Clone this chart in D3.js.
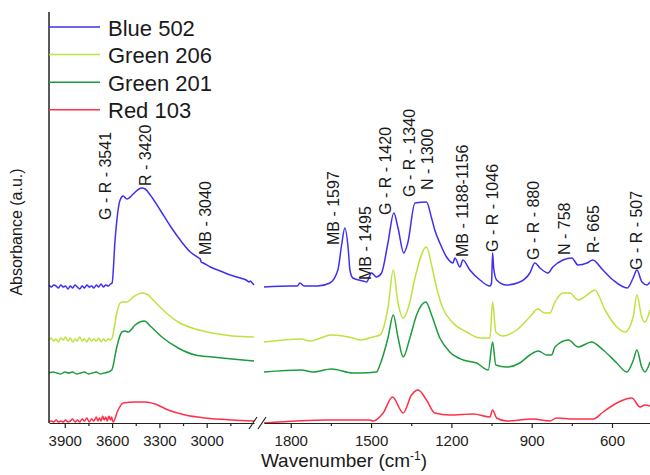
<!DOCTYPE html>
<html>
<head>
<meta charset="utf-8">
<script src="https://cdn.jsdelivr.net/npm/d3@7"></script>
<style>
  html, body { margin: 0; padding: 0; background: #fff; }
  svg { display: block; font-family: "Liberation Sans", Arial, sans-serif; }
</style>
</head>
<body>
<svg id="chart" width="650" height="475"></svg>
<script>
// FTIR spectra, [wavenumber (cm-1), absorbance (a.u., stacked)]
// "High" = 4000-2700 cm-1 window, "Low" = 1900-458 cm-1 window.
const seriesNames = ["Blue 502", "Green 206", "Green 201", "Red 103"];
const seriesColors = ["#3f2ff2", "#bde33f", "#1c9c3c", "#ff3047"];

const blueHigh = [
  [4000,1.38],[3985,1.36],[3970,1.38],[3955,1.37],[3940,1.35],[3925,1.38],[3910,1.36],
  [3895,1.37],[3880,1.34],[3865,1.37],[3850,1.35],[3835,1.38],[3820,1.36],[3805,1.34],
  [3790,1.37],[3775,1.35],[3760,1.38],[3745,1.36],[3730,1.37],[3715,1.35],[3700,1.38],
  [3685,1.36],[3670,1.39],[3655,1.36],[3640,1.38],[3625,1.37],[3610,1.39],[3600,1.40],
  [3581,1.83],[3562,2.13],[3549,2.23],[3530,2.27],[3506,2.24],[3466,2.29],[3430,2.34],
  [3411,2.35],[3390,2.34],[3358,2.28],[3295,2.13],[3231,1.97],[3168,1.83],[3104,1.71],
  [3050,1.65],[3041,1.64],[3035,1.61],[3022,1.60],[2977,1.56],[2914,1.52],[2850,1.48],
  [2787,1.45],[2750,1.43],[2730,1.41],[2723,1.42],[2711,1.40],[2700,1.38]
];
const blueLow = [
  [1900,1.36],[1800,1.37],[1775,1.37],[1766,1.40],[1750,1.37],[1699,1.37],[1654,1.40],
  [1624,1.53],[1610,1.78],[1598,1.95],[1585,1.73],[1579,1.53],[1568,1.45],[1530,1.42],
  [1517,1.41],[1498,1.50],[1480,1.46],[1461,1.50],[1437,1.80],[1415,2.10],[1400,1.96],
  [1378,1.70],[1363,1.80],[1336,2.20],[1293,2.21],[1274,2.05],[1262,1.93],[1243,1.80],
  [1218,1.66],[1194,1.60],[1187,1.65],[1168,1.56],[1157,1.63],[1131,1.53],[1093,1.43],
  [1056,1.37],[1050,1.40],[1046,1.70],[1042,1.55],[1031,1.43],[994,1.38],[944,1.41],
  [907,1.50],[888,1.60],[869,1.55],[839,1.50],[821,1.56],[783,1.63],[750,1.65],
  [727,1.58],[693,1.60],[672,1.63],[634,1.53],[596,1.43],[543,1.35],[521,1.45],
  [507,1.53],[488,1.41],[469,1.38],[458,1.41]
];

const green206High = [
  [4000,0.83],[3985,0.85],[3970,0.82],[3955,0.84],[3940,0.81],[3925,0.85],[3910,0.83],
  [3895,0.86],[3880,0.82],[3865,0.85],[3850,0.81],[3835,0.84],[3820,0.82],[3805,0.86],
  [3790,0.82],[3775,0.84],[3760,0.81],[3745,0.85],[3730,0.82],[3715,0.84],[3700,0.82],
  [3685,0.85],[3670,0.81],[3655,0.84],[3640,0.82],[3625,0.84],[3610,0.83],[3600,0.85],
  [3570,1.10],[3549,1.20],[3530,1.21],[3506,1.21],[3466,1.26],[3411,1.30],[3371,1.28],
  [3327,1.21],[3263,1.11],[3181,1.01],[3073,0.94],[2965,0.90],[2838,0.87],[2700,0.86]
];
const green206Low = [
  [1900,0.81],[1760,0.84],[1729,0.82],[1648,0.88],[1568,0.85],[1542,0.83],[1493,0.86],
  [1467,0.88],[1437,1.15],[1417,1.53],[1400,1.21],[1380,1.05],[1355,1.21],[1336,1.45],
  [1293,1.76],[1274,1.58],[1255,1.35],[1232,1.15],[1194,1.00],[1143,0.91],[1093,0.85],
  [1056,0.85],[1046,1.21],[1034,0.91],[1007,0.87],[956,0.93],[907,1.06],[877,1.14],
  [851,1.10],[832,1.10],[813,1.21],[783,1.30],[757,1.30],[727,1.23],[693,1.28],
  [664,1.33],[626,1.13],[582,0.96],[551,0.91],[521,1.06],[507,1.28],[489,1.06],
  [477,1.01],[458,1.13]
];

const green201High = [
  [4000,0.50],[3975,0.51],[3950,0.50],[3925,0.49],[3900,0.51],[3875,0.50],[3850,0.51],
  [3825,0.49],[3800,0.50],[3775,0.51],[3750,0.49],[3725,0.50],[3700,0.51],[3675,0.49],
  [3650,0.50],[3625,0.51],[3602,0.53],[3570,0.76],[3538,0.91],[3517,0.92],[3498,0.91],
  [3454,0.98],[3397,1.02],[3351,0.96],[3284,0.86],[3181,0.75],[3073,0.68],[2967,0.66],
  [2840,0.64],[2700,0.62]
];
const green201Low = [
  [1900,0.51],[1760,0.53],[1718,0.51],[1648,0.54],[1568,0.50],[1542,0.50],[1480,0.51],
  [1467,0.58],[1437,0.85],[1417,1.08],[1399,0.85],[1380,0.66],[1355,0.85],[1330,1.08],
  [1295,1.21],[1274,1.08],[1243,0.85],[1206,0.71],[1156,0.63],[1106,0.60],[1062,0.53],
  [1046,0.81],[1034,0.58],[994,0.56],[944,0.60],[907,0.68],[875,0.72],[844,0.68],
  [826,0.68],[813,0.76],[763,0.83],[726,0.76],[677,0.81],[633,0.73],[582,0.60],
  [545,0.51],[520,0.63],[507,0.73],[489,0.56],[477,0.51],[458,0.61]
];

const red103High = [
  [4000,0.01],[3985,0.02],[3970,0.01],[3955,0.03],[3940,0.01],[3925,0.02],[3910,0.01],
  [3895,0.03],[3880,0.01],[3865,0.02],[3850,0.04],[3835,0.01],[3820,0.03],[3805,0.01],
  [3790,0.04],[3775,0.02],[3760,0.05],[3745,0.01],[3730,0.04],[3715,0.02],[3700,0.06],
  [3690,0.02],[3680,0.05],[3670,0.02],[3660,0.07],[3650,0.03],[3640,0.06],[3630,0.02],
  [3620,0.07],[3610,0.03],[3603,0.06],[3594,0.01],[3562,0.13],[3530,0.20],[3454,0.21],
  [3390,0.21],[3327,0.19],[3244,0.13],[3136,0.08],[3009,0.05],[2840,0.03],[2700,0.02]
];
const red103Low = [
  [1900,0.00],[1667,0.03],[1505,0.03],[1492,0.02],[1455,0.10],[1420,0.26],[1380,0.10],
  [1349,0.28],[1324,0.33],[1293,0.23],[1262,0.10],[1206,0.08],[1118,0.09],[1056,0.06],
  [1046,0.13],[1031,0.05],[994,0.02],[894,0.04],[832,0.02],[807,0.05],[744,0.04],
  [670,0.04],[633,0.11],[582,0.20],[526,0.25],[495,0.16],[477,0.18],[458,0.17]
];

// Band assignments: label text, anchor wavenumber, anchor absorbance
const bandLabels = [
  ["G - R - 3541", 3645, 2.03],
  ["R - 3420", 3390, 2.37],
  ["MB - 3040", 3009, 1.68],
  ["MB - 1597", 1639, 1.78],
  ["MB - 1495", 1520, 1.43],
  ["G - R - 1420", 1445, 2.08],
  ["G - R - 1340", 1355, 2.26],
  ["N - 1300", 1288, 2.33],
  ["MB - 1188-1156", 1157, 1.66],
  ["G - R - 1046", 1045, 1.71],
  ["G - R - 880", 892, 1.63],
  ["N - 758", 776, 1.68],
  ["R- 665", 671, 1.70],
  ["G - R - 507", 507, 1.53]
];

const highTicks = [3900, 3600, 3300, 3000];
const highMinor = [3750, 3450, 3150, 2850];
const lowTicks = [1800, 1500, 1200, 900, 600];
const lowMinor = [1650, 1350, 1050, 750];

const svg = d3.select("#chart");
const axisY = 423;

const xHigh = d3.scaleLinear().domain([4000, 2700]).range([49, 254]);
const xLow = d3.scaleLinear().domain([1900, 458]).range([264, 650]);
const y = d3.scaleLinear().domain([0, 4.11]).range([axisY, 12]);

const seriesData = [
  [blueHigh, blueLow],
  [green206High, green206Low],
  [green201High, green201Low],
  [red103High, red103Low]
];

const plot = svg.append("g");

// Draw from bottom to top so the upper traces stay on top
seriesData.slice().reverse().forEach((segs, ri) => {
  const i = seriesData.length - 1 - ri;
  [[segs[0], xHigh], [segs[1], xLow]].forEach(([pts, xs]) => {
    const line = d3.line()
      .x(d => xs(d[0]))
      .y(d => y(d[1]))
      .curve(d3.curveMonotoneX);
    plot.append("path")
      .datum(pts)
      .attr("d", line)
      .attr("fill", "none")
      .attr("stroke", seriesColors[i])
      .attr("stroke-width", 1.5)
      .attr("stroke-linejoin", "round");
  });
});

// X axes, two segments with an axis break
function drawAxis(scale, major, minor) {
  const g = svg.append("g").attr("transform", `translate(0,${axisY})`);
  g.call(d3.axisBottom(scale).tickValues(major).tickSize(5).tickSizeOuter(0).tickPadding(7).tickFormat(d3.format("d")));
  g.select(".domain").attr("stroke", "#222").attr("stroke-width", 1.2);
  g.selectAll(".tick line").attr("stroke", "#222").attr("stroke-width", 1.2);
  g.selectAll(".tick text")
    .attr("font-size", 15)
    .attr("fill", "#222")
    .attr("font-family", "'Liberation Sans', Arial, sans-serif");
  const m = svg.append("g").attr("transform", `translate(0,${axisY})`);
  m.call(d3.axisBottom(scale).tickValues(minor).tickSize(3).tickSizeOuter(0).tickFormat(""));
  m.select(".domain").remove();
  m.selectAll(".tick line").attr("stroke", "#222").attr("stroke-width", 1.2);
}
drawAxis(xHigh, highTicks, highMinor);
drawAxis(xLow, lowTicks, lowMinor);

// Break marks
const brk = svg.append("g").attr("stroke", "#222").attr("stroke-width", 1.2);
[[249, 257], [258, 266]].forEach(([x0, x1]) => {
  brk.append("line").attr("x1", x0).attr("y1", axisY + 6).attr("x2", x1).attr("y2", axisY - 6);
});

// Y axis line (no ticks)
svg.append("line")
  .attr("x1", 49).attr("x2", 49)
  .attr("y1", 12).attr("y2", axisY)
  .attr("stroke", "#222").attr("stroke-width", 1.5);

// Band labels, rotated
const labG = svg.append("g");
bandLabels.forEach(([txt, wn, a]) => {
  const xs = wn > 2000 ? xHigh : xLow;
  labG.append("text")
    .attr("transform", `translate(${xs(wn)},${y(a)}) rotate(-90)`)
    .attr("dy", "0.35em")
    .attr("text-anchor", "start")
    .attr("font-size", 16)
    .attr("fill", "#1a1a1a")
    .text(txt);
});

// Legend
const leg = svg.append("g");
seriesNames.forEach((name, i) => {
  const ly = 27 + i * 27.6;
  leg.append("line")
    .attr("x1", 49).attr("x2", 100)
    .attr("y1", ly).attr("y2", ly)
    .attr("stroke", seriesColors[i]).attr("stroke-width", 1.5);
  leg.append("text")
    .attr("x", 108).attr("y", ly + 8.5)
    .attr("font-size", 22)
    .attr("fill", "#1a1a1a")
    .text(name);
});

// Axis titles
const xt = svg.append("text")
  .attr("x", 344).attr("y", 467)
  .attr("text-anchor", "middle")
  .attr("font-size", 19)
  .attr("fill", "#1a1a1a");
xt.append("tspan").text("Wavenumber (cm");
xt.append("tspan").attr("dy", -7).attr("font-size", 12).text("-1");
xt.append("tspan").attr("dy", 7).text(")");

svg.append("text")
  .attr("transform", "translate(22,232) rotate(-90)")
  .attr("text-anchor", "middle")
  .attr("font-size", 16)
  .attr("fill", "#1a1a1a")
  .text("Absorbance (a.u.)");
</script>
</body>
</html>
